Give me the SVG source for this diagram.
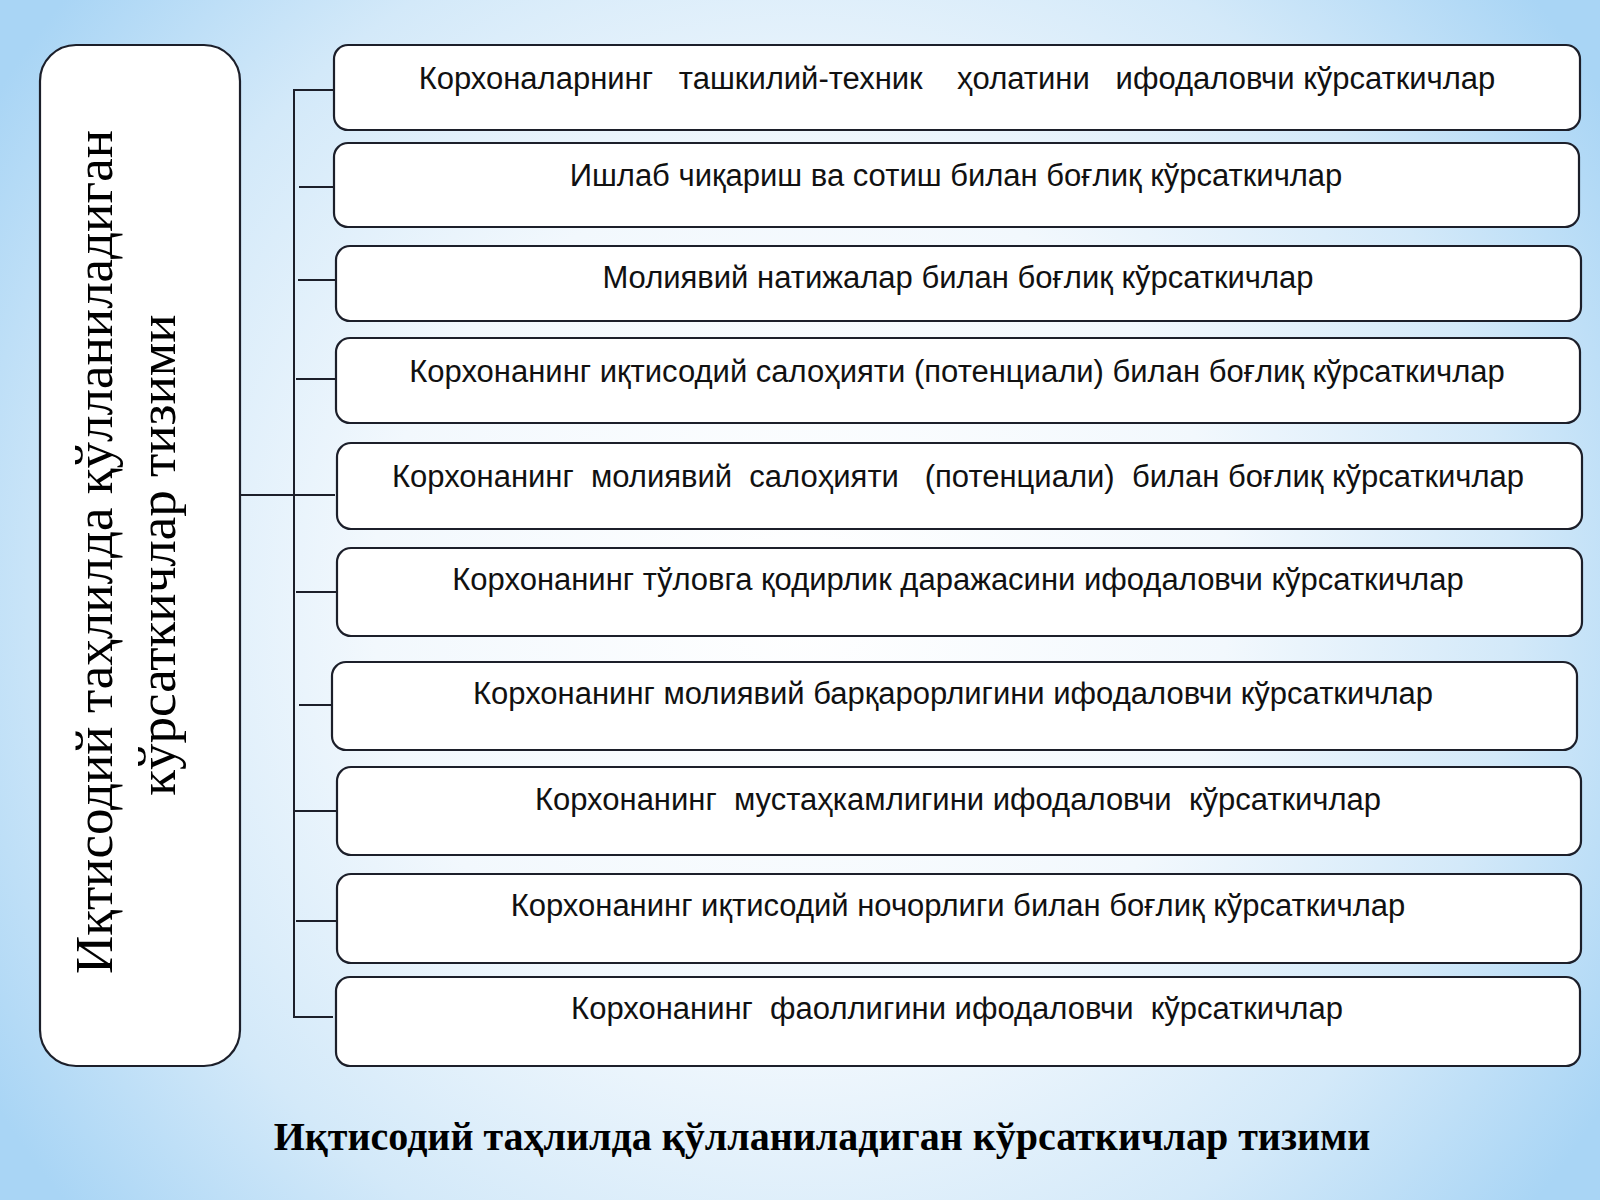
<svg xmlns="http://www.w3.org/2000/svg" width="1600" height="1200" viewBox="0 0 1600 1200">
<defs>
<radialGradient id="bg" cx="800" cy="600" r="950" gradientUnits="userSpaceOnUse">
<stop offset="0" stop-color="#ffffff"/>
<stop offset="0.45" stop-color="#f2f8fd"/>
<stop offset="0.75" stop-color="#d3e9f9"/>
<stop offset="1" stop-color="#a9d5f5"/>
</radialGradient>
<style>
.box{fill:#ffffff;stroke:#1c1f2a;stroke-width:2.2}
.lbl{font-family:"Liberation Sans",Arial,sans-serif;font-size:31px;fill:#111;text-anchor:middle;white-space:pre}
.vt{font-family:"Liberation Serif","Times New Roman",serif;font-size:53px;fill:#000;text-anchor:middle}
.ttl{font-family:"Liberation Serif","Times New Roman",serif;font-size:40px;font-weight:bold;fill:#000;text-anchor:middle}
.con{fill:none;stroke:#1c1f2a;stroke-width:2}
</style>
</defs>
<rect x="0" y="0" width="1600" height="1200" fill="url(#bg)"/>

<g id="connectors">
<polyline class="con" points="333,90 294,90 294,1017 333,1017"/>
<line class="con" x1="299" y1="187" x2="337" y2="187"/>
<line class="con" x1="298" y1="280" x2="338" y2="280"/>
<line class="con" x1="296" y1="379" x2="336" y2="379"/>
<line class="con" x1="240" y1="495" x2="335" y2="495"/>
<line class="con" x1="296" y1="592" x2="337" y2="592"/>
<line class="con" x1="299" y1="705" x2="333" y2="705"/>
<line class="con" x1="294" y1="811" x2="337" y2="811"/>
<line class="con" x1="296" y1="921" x2="337" y2="921"/>
</g>

<g id="main">
<rect class="box" x="40" y="45" width="200" height="1021" rx="36" ry="36"/>
<text class="vt" transform="translate(112,552) rotate(-90)">Иқтисодий таҳлилда қўлланиладиган</text>
<text class="vt" transform="translate(175,555) rotate(-90)">кўрсаткичлар тизими</text>
</g>

<g id="n1">
<rect class="box" x="334" y="45" width="1246" height="85" rx="14"/>
<text class="lbl" x="957" y="89" xml:space="preserve">Корхоналарнинг   ташкилий-техник    ҳолатини   ифодаловчи кўрсаткичлар</text>
</g>
<g id="n2">
<rect class="box" x="334" y="143" width="1245" height="84" rx="14"/>
<text class="lbl" x="956" y="186">Ишлаб чиқариш ва сотиш билан боғлиқ кўрсаткичлар</text>
</g>
<g id="n3">
<rect class="box" x="336" y="246" width="1245" height="75" rx="14"/>
<text class="lbl" x="958" y="288">Молиявий натижалар билан боғлиқ кўрсаткичлар</text>
</g>
<g id="n4">
<rect class="box" x="336" y="338" width="1244" height="85" rx="14"/>
<text class="lbl" x="957" y="382">Корхонанинг иқтисодий салоҳияти (потенциали) билан боғлиқ кўрсаткичлар</text>
</g>
<g id="n5">
<rect class="box" x="337" y="443" width="1245" height="86" rx="14"/>
<text class="lbl" x="958" y="487" xml:space="preserve">Корхонанинг  молиявий  салоҳияти   (потенциали)  билан боғлиқ кўрсаткичлар</text>
</g>
<g id="n6">
<rect class="box" x="337" y="548" width="1245" height="88" rx="14"/>
<text class="lbl" x="958" y="590">Корхонанинг тўловга қодирлик даражасини ифодаловчи кўрсаткичлар</text>
</g>
<g id="n7">
<rect class="box" x="332" y="662" width="1245" height="88" rx="14"/>
<text class="lbl" x="953" y="704">Корхонанинг молиявий барқарорлигини ифодаловчи кўрсаткичлар</text>
</g>
<g id="n8">
<rect class="box" x="337" y="767" width="1244" height="88" rx="14"/>
<text class="lbl" x="958" y="810" xml:space="preserve">Корхонанинг  мустаҳкамлигини ифодаловчи  кўрсаткичлар</text>
</g>
<g id="n9">
<rect class="box" x="337" y="874" width="1244" height="89" rx="14"/>
<text class="lbl" x="958" y="916">Корхонанинг иқтисодий ночорлиги билан боғлиқ кўрсаткичлар</text>
</g>
<g id="n10">
<rect class="box" x="336" y="977" width="1244" height="89" rx="14"/>
<text class="lbl" x="957" y="1019" xml:space="preserve">Корхонанинг  фаоллигини ифодаловчи  кўрсаткичлар</text>
</g>

<text class="ttl" x="822" y="1150">Иқтисодий таҳлилда қўлланиладиган кўрсаткичлар тизими</text>
</svg>
